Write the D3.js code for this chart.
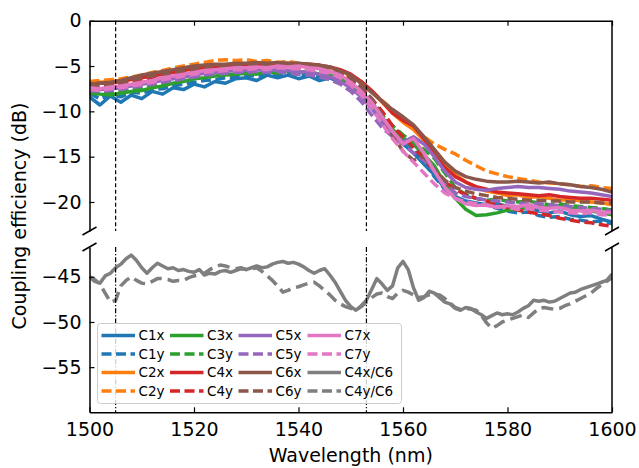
<!DOCTYPE html>
<html>
<head>
<meta charset="utf-8">
<script src="https://cdn.jsdelivr.net/npm/d3@7"></script>
<style>
  body { margin: 0; background: #fff; }
  svg { display: block; font-family: "DejaVu Sans", sans-serif; }
</style>
</head>
<body>
<div id="chart"></div>
<script>
// wavelength grids (nm) ---------------------------------------------------------------
const wl = d3.range(1500, 1601, 2);
const wlRef = d3.range(1500, 1601, 1);

// coupling efficiency (dB), upper panel -----------------------------------------------
const C1x = [-8.4,-9.3,-8.3,-9.0,-8.2,-8.6,-7.8,-8.1,-7.4,-7.6,-7.0,
  -7.3,-6.7,-6.9,-6.4,-6.3,-6.6,-6.0,-6.3,-6.0,-6.4,
  -6.1,-6.6,-6.3,-6.8,-7.0,-7.9,-9.2,-10.8,-12.2,-13.6,
  -14.6,-15.8,-17.0,-18.5,-19.4,-19.9,-20.1,-20.3,-20.2,-20.5,
  -20.8,-20.6,-21.0,-21.2,-21.0,-21.4,-21.6,-21.5,-21.9,-22.2];
const C1y = [-8.0,-8.6,-8.2,-8.4,-7.9,-8.0,-7.6,-7.5,-7.2,-7.0,-6.8,
  -6.6,-6.5,-6.3,-6.2,-6.0,-6.1,-5.9,-6.0,-5.8,-5.9,
  -6.0,-6.2,-6.1,-6.5,-7.0,-7.6,-8.8,-10.5,-12.0,-13.0,
  -14.2,-15.6,-17.2,-18.6,-19.5,-20.0,-20.4,-20.3,-20.7,-21.0,
  -21.2,-21.1,-21.5,-21.7,-21.6,-21.9,-22.0,-22.2,-22.1,-22.4];
const C2x = [-6.9,-6.8,-6.7,-6.6,-6.4,-6.2,-6.0,-5.8,-5.6,-5.4,-5.2,
  -5.1,-5.0,-4.9,-4.8,-4.8,-4.7,-4.8,-4.7,-4.8,-4.9,
  -4.9,-5.0,-5.2,-5.5,-6.0,-6.8,-7.8,-9.0,-10.2,-11.2,
  -12.0,-13.2,-14.6,-16.0,-17.0,-17.8,-18.4,-18.8,-19.0,-19.3,
  -19.2,-19.5,-19.4,-19.6,-19.8,-19.7,-19.9,-20.0,-20.1,-20.3];
const C2y = [-6.7,-6.6,-6.5,-6.4,-6.2,-6.0,-5.7,-5.5,-5.2,-5.0,-4.8,
  -4.6,-4.4,-4.3,-4.4,-4.3,-4.5,-4.4,-4.6,-4.5,-4.7,
  -4.8,-5.0,-5.2,-5.6,-6.2,-6.9,-7.8,-8.8,-9.8,-10.8,
  -11.8,-12.8,-13.6,-14.2,-14.7,-15.4,-16.0,-16.6,-16.9,-17.2,
  -17.4,-17.6,-17.8,-17.9,-18.0,-18.1,-18.3,-18.2,-18.4,-18.5];
const C3x = [-8.0,-8.1,-8.2,-8.0,-7.8,-7.7,-7.4,-7.2,-6.9,-6.7,-6.4,
  -6.3,-6.1,-6.0,-5.9,-5.8,-5.9,-5.6,-5.8,-5.5,-5.7,
  -5.6,-5.9,-6.0,-6.4,-7.0,-7.9,-9.2,-10.8,-12.0,-13.0,
  -13.6,-14.8,-16.0,-18.0,-19.6,-20.8,-21.5,-21.4,-21.2,-20.9,
  -20.8,-20.6,-20.5,-20.6,-20.4,-20.7,-20.9,-21.0,-21.2,-21.4];
const C3y = [-7.8,-7.9,-7.9,-7.7,-7.5,-7.4,-7.1,-6.9,-6.7,-6.5,-6.3,
  -6.1,-5.9,-5.8,-5.7,-5.6,-5.5,-5.7,-5.4,-5.6,-5.5,
  -5.6,-5.8,-5.9,-6.3,-6.9,-7.8,-9.0,-10.4,-11.6,-12.6,
  -13.4,-14.2,-15.2,-16.8,-18.4,-19.2,-19.6,-19.8,-19.7,-19.9,
  -20.0,-19.9,-20.1,-20.3,-20.2,-20.4,-20.5,-20.6,-20.7,-20.9];
const C4x = [-7.0,-6.9,-6.9,-6.7,-6.5,-6.3,-6.1,-5.9,-5.7,-5.5,-5.3,
  -5.2,-5.1,-5.0,-5.0,-4.9,-4.9,-4.8,-4.9,-4.7,-4.8,
  -4.8,-4.9,-5.1,-5.4,-5.9,-6.7,-7.7,-8.9,-10.2,-11.0,
  -11.6,-13.0,-14.8,-16.2,-17.2,-17.8,-18.3,-18.6,-18.9,-19.0,
  -19.1,-19.2,-19.3,-19.2,-19.4,-19.5,-19.6,-19.6,-19.7,-19.8];
const C4y = [-7.3,-7.2,-7.1,-7.0,-6.8,-6.6,-6.4,-6.2,-6.0,-5.8,-5.6,
  -5.5,-5.4,-5.3,-5.2,-5.2,-5.1,-5.2,-5.0,-5.1,-5.2,
  -5.2,-5.4,-5.6,-5.9,-6.5,-7.4,-8.6,-10.0,-11.6,-12.8,
  -14.0,-15.2,-16.6,-17.8,-18.6,-19.2,-19.6,-19.9,-20.3,-20.6,
  -20.9,-21.1,-21.3,-21.5,-21.8,-22.0,-22.2,-22.3,-22.5,-22.7];
const C5x = [-7.5,-7.6,-7.5,-7.4,-7.2,-7.0,-6.8,-6.6,-6.4,-6.2,-6.0,
  -5.8,-5.7,-5.6,-5.5,-5.5,-5.4,-5.5,-5.4,-5.5,-5.6,
  -5.7,-5.9,-6.2,-6.7,-7.4,-8.4,-9.7,-11.2,-12.4,-13.4,
  -12.8,-13.6,-15.0,-16.6,-17.8,-18.4,-18.6,-18.7,-18.5,-18.4,
  -18.3,-18.4,-18.4,-18.5,-18.6,-18.8,-18.9,-19.0,-19.2,-19.4];
const C5y = [-7.7,-7.8,-7.7,-7.6,-7.4,-7.2,-7.0,-6.8,-6.6,-6.4,-6.2,
  -6.0,-5.9,-5.8,-5.7,-5.7,-5.6,-5.7,-5.6,-5.8,-5.9,
  -6.0,-6.2,-6.5,-7.0,-7.8,-8.9,-10.4,-11.8,-12.8,-13.6,
  -14.6,-15.4,-16.6,-18.0,-19.0,-19.4,-19.6,-19.8,-19.9,-20.0,
  -20.1,-20.2,-20.2,-20.3,-20.4,-20.5,-20.6,-20.7,-20.8,-21.0];
const C6x = [-7.0,-6.9,-6.8,-6.6,-6.3,-6.0,-5.8,-5.6,-5.4,-5.2,-5.0,
  -4.9,-4.8,-4.8,-4.7,-4.7,-4.6,-4.7,-4.6,-4.7,-4.7,
  -4.8,-4.9,-5.1,-5.5,-6.0,-6.9,-7.9,-8.9,-9.8,-10.6,
  -11.5,-12.8,-14.2,-15.6,-16.6,-17.2,-17.5,-17.7,-17.8,-17.8,
  -17.7,-17.8,-17.9,-17.8,-18.0,-18.1,-18.3,-18.4,-18.6,-18.9];
const C6y = [-7.1,-7.1,-7.0,-6.9,-6.6,-6.3,-6.1,-5.9,-5.7,-5.5,-5.3,
  -5.1,-5.0,-5.0,-4.9,-4.9,-4.8,-4.9,-4.8,-4.9,-5.0,
  -5.0,-5.2,-5.4,-5.8,-6.4,-7.3,-8.6,-10.4,-12.6,-14.4,
  -15.4,-15.0,-16.4,-17.6,-18.4,-18.8,-19.1,-19.3,-19.5,-19.6,
  -19.7,-19.8,-19.8,-19.9,-19.9,-20.0,-20.0,-20.0,-20.1,-20.1];
const C7x = [-7.4,-7.5,-7.3,-7.2,-7.0,-6.8,-6.6,-6.3,-6.1,-5.9,-5.7,
  -5.5,-5.4,-5.3,-5.2,-5.2,-5.1,-5.2,-5.0,-5.1,-5.0,
  -5.2,-5.3,-5.6,-6.0,-6.8,-7.8,-9.0,-10.6,-12.2,-13.6,
  -13.0,-14.6,-16.6,-18.4,-19.6,-20.2,-20.4,-20.3,-20.6,-20.4,
  -20.5,-20.3,-20.6,-20.7,-20.6,-20.9,-21.0,-20.9,-21.1,-21.2];
const C7y = [-7.6,-7.7,-7.5,-7.4,-7.2,-7.0,-6.8,-6.5,-6.3,-6.1,-5.9,
  -5.7,-5.6,-5.5,-5.4,-5.4,-5.3,-5.4,-5.2,-5.3,-5.3,
  -5.4,-5.6,-5.8,-6.3,-7.1,-8.2,-9.6,-11.4,-13.0,-14.4,
  -15.6,-16.8,-18.0,-19.0,-19.6,-20.0,-20.2,-20.4,-20.5,-20.6,
  -20.8,-20.7,-20.9,-21.0,-21.1,-21.2,-21.3,-21.2,-21.4,-21.5];

// reference C4 / C6 (dB), lower panel -------------------------------------------------
const C4xC6 = [-45.0,-45.5,-45.7,-44.9,-44.6,-44.0,-43.6,-43.0,-42.6,-43.2,
  -44.0,-44.6,-44.0,-43.5,-43.8,-44.1,-44.0,-44.3,-44.2,-44.4,
  -44.5,-44.2,-44.8,-44.6,-44.7,-44.4,-44.3,-44.5,-44.3,-44.1,
  -44.2,-44.0,-43.8,-44.0,-43.9,-43.6,-43.4,-43.3,-43.5,-43.4,
  -43.6,-43.9,-44.3,-44.6,-44.3,-44.1,-44.8,-45.6,-46.6,-47.6,
  -48.3,-48.7,-48.2,-47.6,-46.4,-45.2,-45.8,-46.5,-46.0,-44.0,
  -43.3,-44.2,-46.2,-47.6,-47.3,-46.6,-46.8,-47.3,-47.8,-48.0,
  -48.5,-48.7,-48.4,-48.5,-48.9,-49.2,-49.6,-49.3,-49.0,-49.2,
  -49.1,-49.2,-48.9,-48.5,-48.2,-47.6,-47.7,-47.6,-47.8,-47.7,
  -47.4,-47.1,-46.8,-46.7,-46.4,-46.2,-46.0,-45.8,-45.6,-45.4,-44.7];
const C4yC6 = [-45.0,-45.3,-45.8,-46.8,-47.8,-47.6,-46.0,-45.4,-45.0,-45.4,
  -45.7,-45.8,-45.5,-45.2,-45.2,-45.3,-45.5,-45.4,-45.4,-45.1,
  -44.9,-44.8,-44.6,-44.2,-43.9,-43.7,-43.8,-44.0,-44.1,-44.0,
  -44.2,-44.1,-44.0,-44.4,-44.9,-45.4,-46.0,-46.7,-46.5,-46.2,
  -46.1,-45.9,-45.7,-45.6,-46.0,-46.5,-47.0,-47.6,-48.0,-48.3,
  -48.5,-48.7,-48.3,-47.8,-47.3,-46.9,-46.8,-47.2,-47.4,-46.8,
  -46.5,-46.7,-47.0,-47.3,-47.2,-47.0,-46.9,-47.0,-47.4,-47.9,
  -48.4,-48.6,-48.5,-48.6,-48.7,-49.3,-50.1,-50.7,-50.4,-50.0,
  -49.8,-49.6,-49.4,-49.2,-49.5,-49.0,-48.5,-48.4,-48.5,-48.6,
  -48.5,-48.2,-48.0,-47.7,-47.4,-47.1,-46.8,-46.3,-45.9,-45.5,-45.1];

const names = ['C1x','C1y','C2x','C2y','C3x','C3y','C4x','C4y','C5x','C5y','C6x','C6y','C7x','C7y'];
const values = [C1x,C1y,C2x,C2y,C3x,C3y,C4x,C4y,C5x,C5y,C6x,C6y,C7x,C7y];
const refNames = ['C4x/C6','C4y/C6'];
const refValues = [C4xC6, C4yC6];
const markers = [1505, 1553];
const xTicks = [1500, 1520, 1540, 1560, 1580, 1600];
const yTicksTop = [0, -5, -10, -15, -20];
const yTicksBot = [-45, -50, -55];

// colours ------------------------------------------------------------------------------
const colors = ['#1f77b4','#ff7f0e','#2ca02c','#d62728','#9467bd','#8c564b','#e377c2','#7f7f7f'];
const dashArr = '10,4.5';

// geometry -----------------------------------------------------------------------------
const W = 639, H = 468;
const L = 89.5, R = 612;
const topY = [20.7, 231];
const botY = [247, 412.3];

const x = d3.scaleLinear().domain([1500, 1600]).range([L, R]);
const yTop = d3.scaleLinear().domain([-23.2, 0]).range([topY[1], topY[0]]);
const yBot = d3.scaleLinear().domain([-60, -41.7]).range([botY[1], botY[0]]);

const svg = d3.select('#chart').append('svg')
  .attr('width', W)
  .attr('height', H);

const defs = svg.append('defs');
defs.append('clipPath').attr('id', 'clipTop')
  .append('rect').attr('x', L).attr('y', topY[0]).attr('width', R - L).attr('height', topY[1] - topY[0]);
defs.append('clipPath').attr('id', 'clipBot')
  .append('rect').attr('x', L).attr('y', botY[0]).attr('width', R - L).attr('height', botY[1] - botY[0]);

// curves -------------------------------------------------------------------------------
const lineTop = d3.line().x((d, i) => x(wl[i])).y(d => yTop(d));
const lineBot = d3.line().x((d, i) => x(wlRef[i])).y(d => yBot(d));

svg.append('g')
  .attr('clip-path', 'url(#clipTop)')
  .selectAll('path')
  .data(values)
  .enter()
  .append('path')
  .attr('d', d => lineTop(d))
  .attr('fill', 'none')
  .attr('stroke', (d, i) => colors[Math.floor(i / 2)])
  .attr('stroke-width', 3.5)
  .attr('stroke-linejoin', 'round')
  .attr('stroke-dasharray', (d, i) => i % 2 ? dashArr : null);

svg.append('g')
  .attr('clip-path', 'url(#clipBot)')
  .selectAll('path')
  .data(refValues)
  .enter()
  .append('path')
  .attr('d', d => lineBot(d))
  .attr('fill', 'none')
  .attr('stroke', colors[7])
  .attr('stroke-width', 3.5)
  .attr('stroke-linejoin', 'round')
  .attr('stroke-dasharray', (d, i) => i % 2 ? '12,6' : null);

// vertical marker lines ----------------------------------------------------------------
[[topY, '4,2.5'], [botY, '5,2,1.2,2']].forEach(([r, dash]) => {
  svg.append('g')
    .selectAll('line')
    .data(markers)
    .enter()
    .append('line')
    .attr('x1', d => x(d)).attr('x2', d => x(d))
    .attr('y1', r[0]).attr('y2', r[1])
    .attr('stroke', '#000')
    .attr('stroke-width', 1.2)
    .attr('stroke-dasharray', dash);
});

// axes ---------------------------------------------------------------------------------
const fmt = d3.format('d');
function styleAxis(g) {
  g.selectAll('.domain').attr('stroke', '#000').attr('stroke-width', 1.5);
  g.selectAll('.tick line').attr('stroke', '#000').attr('stroke-width', 1.2);
  g.selectAll('.tick text')
    .attr('fill', '#000')
    .attr('font-size', 19)
    .attr('font-family', '"DejaVu Sans", sans-serif');
}
svg.append('g')
  .attr('transform', `translate(${L},0)`)
  .call(d3.axisLeft(yTop).tickValues(yTicksTop).tickFormat(fmt).tickSizeInner(-5).tickSizeOuter(0).tickPadding(8))
  .call(styleAxis);
svg.append('g')
  .attr('transform', `translate(${L},0)`)
  .call(d3.axisLeft(yBot).tickValues(yTicksBot).tickFormat(fmt).tickSizeInner(-5).tickSizeOuter(0).tickPadding(8))
  .call(styleAxis);
svg.append('g')
  .attr('transform', `translate(0,${topY[0]})`)
  .call(d3.axisTop(x).tickValues(xTicks).tickFormat('').tickSizeInner(-5).tickSizeOuter(0))
  .call(styleAxis);
svg.append('g')
  .attr('transform', `translate(0,${botY[1]})`)
  .call(d3.axisBottom(x).tickValues(xTicks).tickFormat(fmt).tickSizeInner(-5).tickSizeOuter(0).tickPadding(10))
  .call(styleAxis);
// right spines
[topY, botY].forEach(r => {
  svg.append('line')
    .attr('x1', R).attr('x2', R).attr('y1', r[0]).attr('y2', r[1])
    .attr('stroke', '#000').attr('stroke-width', 1.5);
});
// break marks
[[L, topY[1]], [R, topY[1]], [L, botY[0]], [R, botY[0]]].forEach(p => {
  svg.append('line')
    .attr('x1', p[0] - 7).attr('y1', p[1] + 4)
    .attr('x2', p[0] + 7).attr('y2', p[1] - 4)
    .attr('stroke', '#000').attr('stroke-width', 1.5);
});

// labels -------------------------------------------------------------------------------
svg.append('text')
  .attr('x', (L + R) / 2)
  .attr('y', 462)
  .attr('text-anchor', 'middle')
  .attr('font-size', 19)
  .text('Wavelength (nm)');
svg.append('text')
  .attr('transform', 'translate(26,216) rotate(-90)')
  .attr('text-anchor', 'middle')
  .attr('font-size', 19)
  .text('Coupling efficiency (dB)');

// legend -------------------------------------------------------------------------------
const legendItems = names.map((n, i) => ({ name: n, color: colors[Math.floor(i / 2)], dash: i % 2 === 1 }))
  .concat(refNames.map((n, i) => ({ name: n, color: colors[7], dash: i === 1 })));
const lg = svg.append('g');
lg.append('rect')
  .attr('x', 97.5).attr('y', 323.5)
  .attr('width', 304).attr('height', 80)
  .attr('rx', 3)
  .attr('fill', 'rgba(255,255,255,0.8)')
  .attr('stroke', '#cccccc')
  .attr('stroke-width', 1);
const colX = [101.5, 170, 238.5, 307.5];
const rowY = [335.5, 354, 372.5, 391];
const item = lg.selectAll('g.item')
  .data(legendItems)
  .enter()
  .append('g')
  .attr('transform', (d, i) => `translate(${colX[Math.floor(i / 4)]},${rowY[i % 4]})`);
item.append('line')
  .attr('x1', 0).attr('x2', 33.5)
  .attr('stroke', d => d.color)
  .attr('stroke-width', 3.5)
  .attr('stroke-dasharray', d => d.dash ? dashArr : null);
item.append('text')
  .attr('x', 37)
  .attr('dy', '0.36em')
  .attr('font-size', 13.5)
  .text(d => d.name);
</script>
</body>
</html>
